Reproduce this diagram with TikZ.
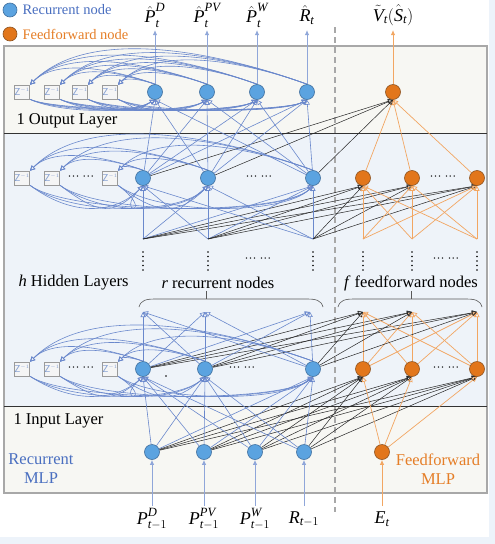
\documentclass[tikz,border=0pt]{standalone}
\usepackage{amsmath}
\usepackage[no-math]{fontspec}
\setmainfont{Liberation Serif}
\usetikzlibrary{arrows.meta}
\definecolor{rblue}{HTML}{5BA3E0}
\definecolor{rblueD}{HTML}{41709F}
\definecolor{lblue}{HTML}{6A88CC}
\definecolor{fora}{HTML}{E2761B}
\definecolor{foraD}{HTML}{8E5320}
\definecolor{lorange}{HTML}{F2A662}
\definecolor{tblue}{HTML}{4A6FC0}
\definecolor{torange}{HTML}{E57E27}
\definecolor{bgbeige}{HTML}{F7F7F3}
\definecolor{bghid}{HTML}{EEF3F9}
\definecolor{stripb}{HTML}{EDF3FA}
\definecolor{framegray}{HTML}{A8A8A8}
\definecolor{zgray}{HTML}{9A9A9A}
\definecolor{ztext}{HTML}{7F9BD0}
\newcommand\mi[1]{\textit{#1}}
\newcommand\zinv{$\mathsf{Z}^{\scriptscriptstyle -1}$}
\pgfdeclarelayer{bg}
\pgfdeclarelayer{edges}
\pgfsetlayers{bg,edges,main}
\begin{document}
\begin{tikzpicture}[x=1pt,y=-1pt,font=\fontsize{16.5}{19}\selectfont,
  rn/.style={circle,minimum size=15pt,inner sep=0pt,fill=rblue,draw=rblueD,line width=0.6pt},
  fn/.style={rn,fill=fora,draw=foraD},
  zb/.style={rectangle,minimum size=14pt,inner sep=0pt,draw=zgray,fill=white!96!black,line width=0.6pt,text=ztext,font=\fontsize{10}{10}\selectfont},
  tip/.style={-{Triangle[open,length=5pt,width=5pt]}},
  bl/.style={draw=lblue,line width=0.6pt,tip},
  bk/.style={draw=black!85,line width=0.5pt,tip},
  og/.style={draw=lorange,line width=0.7pt,tip},
  outar/.style={draw=lblue!75,line width=1pt,-{Latex[length=5pt,width=4.5pt]}},
  lab/.style={font=\fontsize{18}{20}\selectfont},
  leg/.style={font=\fontsize{14.5}{17}\selectfont,anchor=west},
  hdots/.style={font=\fontsize{12}{12}\selectfont,inner sep=0pt},
  brace/.style={draw=black!65,line width=0.6pt}]
\useasboundingbox (0,0) rectangle (495,544);
\begin{pgfonlayer}{bg}
\fill[stripb] (489,0) rectangle (495,544);
\fill[stripb] (0,537) rectangle (495,544);
\fill[bgbeige] (4,46) rectangle (487,133);
\fill[bghid] (4,133) rectangle (487,406);
\fill[bgbeige] (4,406) rectangle (487,493);
\draw[framegray,line width=1.5pt] (4,46) rectangle (487,493);
\draw[black!80,line width=1pt] (4,133) -- (487,133);
\draw[black!80,line width=1pt] (4,406) -- (487,406);
\coordinate (dT) at (335,27);
\coordinate (dB) at (335,512);
\draw[framegray,line width=1.4pt,dash pattern=on 6pt off 4pt] (dT) -- (dB);
\end{pgfonlayer}
% legend
\node[rn,minimum size=14pt] (lg1) at (10,10) {};
\node[leg,text=tblue] (lgt1) at (19,10) {Recurrent node};
\node[fn,minimum size=14pt] (lg2) at (10,34) {};
\node[leg,text=torange] (lgt2) at (19,34) {Feedforward node};
% output layer
\foreach \x [count=\i] in {155,207,257,307} \node[rn] (O\i) at (\x,92) {};
\node[fn] (OF) at (393,92) {};
\foreach \x [count=\i] in {22,52,80,110} \node[zb] (ZO\i) at (\x,92) {\zinv};
% hidden top
\foreach \x [count=\i] in {143,208,313} \node[rn] (HT\i) at (\x,178) {};
\foreach \x [count=\i] in {363,412,477} \node[fn] (HTF\i) at (\x,178) {};
\foreach \x [count=\i] in {22,52,110} \node[zb] (ZT\i) at (\x,178) {\zinv};
\foreach \x [count=\i] in {143,208,313,363,412,477} \coordinate (P\i) at (\x,239);
% hidden bottom
\foreach \x [count=\i] in {143,205,313} \node[rn] (HB\i) at (\x,369) {};
\foreach \x [count=\i] in {363,412,477} \node[fn] (HBF\i) at (\x,369) {};
\foreach \x [count=\i] in {22,52,110} \node[zb] (ZB\i) at (\x,369) {\zinv};
\foreach \x [count=\i] in {143,205,310,363,412,477} \coordinate (Q\i) at (\x,312);
% input
\foreach \x [count=\i] in {152,204,255,304} \node[rn] (I\i) at (\x,452) {};
\node[fn] (IF) at (382,452) {};
% dots
\foreach \x in {143,208,313,363,412,477} \foreach \y in {252,256.5,...,270} \fill (\x,\y) circle (0.9);
\fill (166,376) circle (0.8);
\node[hdots] (d1) at (259,178) {··· ···};
\node[hdots] (d2) at (443,178) {··· ···};
\node[hdots] (d3) at (81,178) {··· ···};
\node[hdots] (d4) at (258,260) {··· ···};
\node[hdots] (d5) at (446,260) {··· ···};
\node[hdots] (d6) at (242,369) {··· ···};
\node[hdots] (d7) at (446,369) {··· ···};
\node[hdots] (d8) at (81,369) {··· ···};
% texts
\node[anchor=west] (t1) at (13,121) {1 Output Layer};
\node[anchor=west] (t2) at (15,283) {\textit{h} Hidden Layers};
\node (t3) at (218,283) {\textit{r} recurrent nodes};
\node (t4) at (411,283) {\textit{f} feedforward nodes};
\node[anchor=west] (t5) at (10,421) {1 Input Layer};
\node[align=center,text=tblue] (t6) at (41,469) {Recurrent\\MLP};
\node[align=center,text=torange] (t7) at (438,469) {Feedforward\\MLP};
% braces
\draw[brace] (139,307) .. controls (141,300) and (146,299) .. (156,299) -- (306,299) .. controls (316,299) and (321,300) .. (323,307);
\draw[brace] (206,291) -- (206,299);
\draw[brace] (338,307) .. controls (340,300) and (345,299) .. (355,299) -- (465,299) .. controls (475,299) and (480,300) .. (482,307);
\draw[brace] (411,291) -- (411,299);
% output labels
\node[lab] (lo1) at (155,15) {$\hat{\mi{P}}_{\mi{t}}^{\mi{D}}$};
\node[lab] (lo2) at (207,15) {$\hat{\mi{P}}_{\mi{t}}^{\mi{PV}}$};
\node[lab] (lo3) at (257,15) {$\hat{\mi{P}}_{\mi{t}}^{\mi{W}}$};
\node[lab] (lo4) at (307,15) {$\hat{\mi{R}}_{\mi{t}}$};
\node[lab] (lo5) at (393,15) {$\tilde{\mi{V}}_{\mi{t}}(\hat{\mi{S}}_{\mi{t}})$};
% input labels
\node[lab] (li1) at (152,519) {$\mi{P}_{\mi{t}-1}^{\mi{D}}$};
\node[lab] (li2) at (204,519) {$\mi{P}_{\mi{t}-1}^{\mi{PV}}$};
\node[lab] (li3) at (255,519) {$\mi{P}_{\mi{t}-1}^{\mi{W}}$};
\node[lab] (li4) at (304,519) {$\mi{R}_{\mi{t}-1}$};
\node[lab] (li5) at (382,519) {$\mi{E}_{\mi{t}}$};
\begin{pgfonlayer}{edges}
% output arrows
\foreach \x [count=\i] in {155,207,257,307} {\coordinate (OT\i) at (\x,30); \draw[outar] (O\i) -- (OT\i);}
\coordinate (OT5) at (393,30);
\draw[outar,draw=lorange] (OF) -- (OT5);
% input arrows
\foreach \x [count=\i] in {152,204,255,304} {\coordinate (IB\i) at (\x,506); \draw[outar] (IB\i) -- (I\i.south);}
\coordinate (IB5) at (382,506);
\draw[outar,draw=lorange] (IB5) -- (IF.south);
% into output layer
\foreach \i in {1,2,3} {
  \foreach \j in {1,...,4} \draw[bl] (HT\i) -- (O\j.south);
  \draw[bk] (HT\i) -- (OF.south);
  \draw[og] (HTF\i) -- (OF.south);
}
\foreach \j in {1,...,4} \foreach \i in {1,...,4} \draw[bl] (O\j.north) to[out=160,in=45,looseness=0.8] (ZO\i.north east);
\foreach \i in {1,...,4} \foreach \j in {1,...,4} \draw[bl] (ZO\i.south east) .. controls +(30,14) and +(-25,14) .. (O\j.south);
% into hidden top
\foreach \p in {1,2,3} {
  \foreach \j in {1,2,3} \draw[bl] (P\p) -- (HT\j.south);
  \foreach \j in {1,2,3} \draw[bk] (P\p) -- (HTF\j.south);
}
\foreach \p in {4,5,6} \foreach \j in {1,2,3} \draw[og] (P\p) -- (HTF\j.south);
\foreach \j in {1,2,3} \foreach \i in {1,2,3} \draw[bl] (HT\j.north) to[out=160,in=45,looseness=0.8] (ZT\i.north east);
\foreach \i in {1,2,3} \foreach \j in {1,2,3} \draw[bl] (ZT\i.south east) .. controls +(40,30) and +(-30,30) .. (HT\j.south);
% out of hidden bottom
\foreach \i in {1,2,3} {
  \foreach \q in {1,2,3} \draw[bl] (HB\i) -- (Q\q);
  \foreach \q in {4,5,6} \draw[bk] (HB\i) -- (Q\q);
  \foreach \q in {4,5,6} \draw[og] (HBF\i) -- (Q\q);
}
\foreach \j in {1,2,3} \foreach \i in {1,2,3} \draw[bl] (HB\j.north) to[out=160,in=45,looseness=0.8] (ZB\i.north east);
\foreach \i in {1,2,3} \foreach \j in {1,2,3} \draw[bl] (ZB\i.south east) .. controls +(40,26) and +(-30,26) .. (HB\j.south);
% input to hidden bottom
\foreach \i in {1,...,4} {
  \foreach \j in {1,2,3} \draw[bl] (I\i) -- (HB\j.south);
  \foreach \j in {1,2,3} \draw[bk] (I\i) -- (HBF\j.south);
}
\foreach \j in {1,2,3} \draw[og] (IF) -- (HBF\j.south);
\end{pgfonlayer}
\end{tikzpicture}
\end{document}
